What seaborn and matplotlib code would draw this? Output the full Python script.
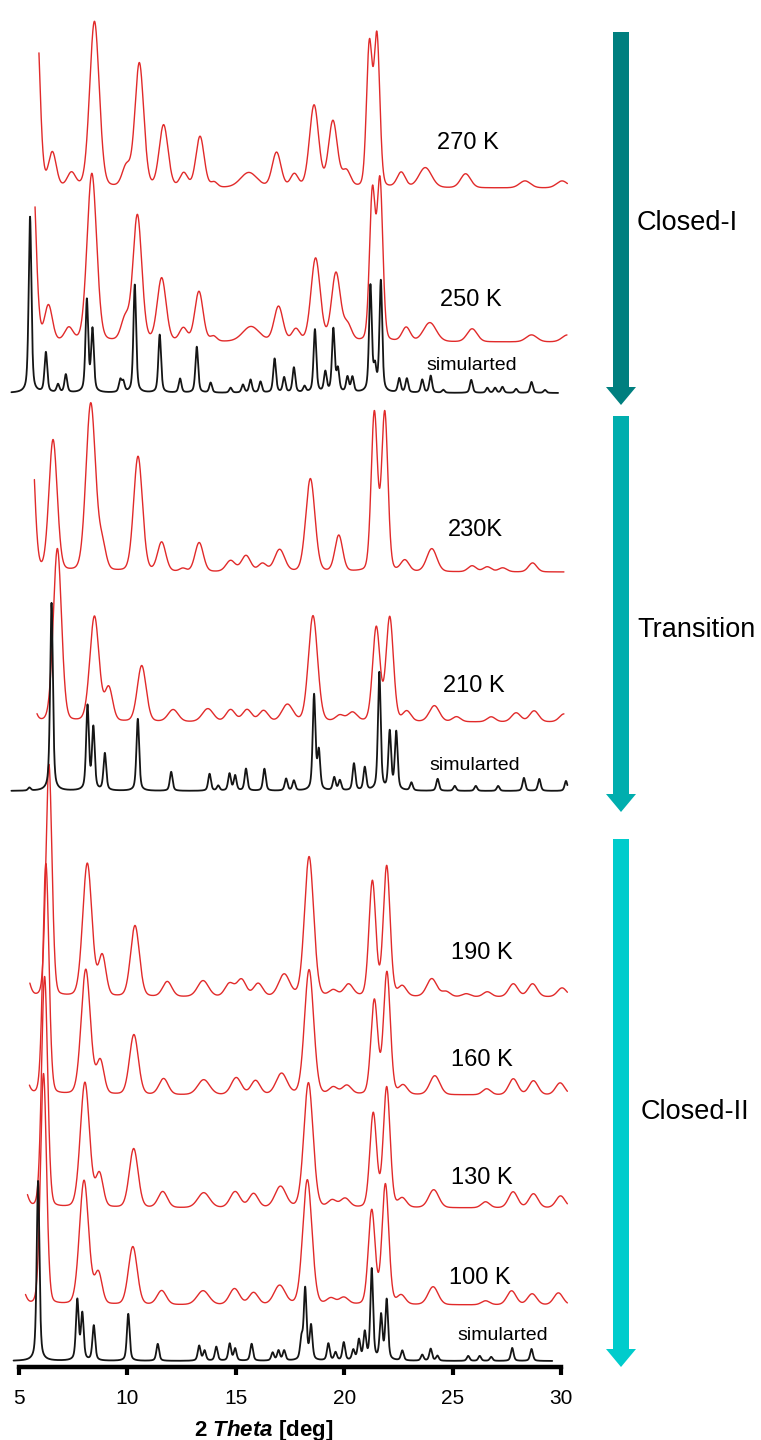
import numpy as np
import pandas as pd
import matplotlib
matplotlib.use("Agg")
import matplotlib.pyplot as plt
import matplotlib.transforms as mtransforms
from matplotlib.patches import FancyArrow
import seaborn as sns

# Peak tables: (2theta [deg], intensity [a.u.], fwhm [deg])
peaks_270K = [(5.78, 190, 0.4), (6.54, 34, 0.42), (7.42, 14, 0.45), (8.48, 166, 0.52),
              (9.95, 20, 0.45), (10.55, 124, 0.48), (11.67, 62, 0.48), (12.6, 14, 0.42),
              (13.35, 51, 0.45), (14.0, 5, 0.35), (15.6, 15, 0.9), (16.88, 35, 0.48),
              (17.7, 13, 0.42), (18.61, 82, 0.5), (19.48, 66, 0.48), (20.1, 16, 0.45),
              (21.16, 141, 0.31), (21.51, 149, 0.31), (22.63, 15, 0.45), (23.74, 20, 0.7),
              (25.6, 14, 0.55), (28.34, 7, 0.6), (30.05, 7, 0.6)]
peaks_250K = [(5.6, 190, 0.4), (6.36, 35, 0.42), (7.3, 13, 0.45), (8.36, 168, 0.52),
              (9.9, 22, 0.45), (10.46, 126, 0.48), (11.58, 63, 0.48), (12.58, 13, 0.42),
              (13.3, 50, 0.45), (13.97, 5, 0.35), (15.7, 15, 0.9), (16.97, 35, 0.48),
              (17.77, 12, 0.42), (18.68, 83, 0.5), (19.62, 68, 0.48), (20.15, 16, 0.45),
              (21.3, 148, 0.31), (21.65, 158, 0.31), (22.86, 14, 0.45), (23.95, 19, 0.7),
              (25.9, 13, 0.55), (28.64, 7, 0.6), (30.3, 7, 0.6)]
peaks_230K = [(5.53, 160, 0.4), (6.57, 131, 0.45), (8.31, 168, 0.52), (8.84, 24, 0.4),
              (10.49, 115, 0.48), (11.58, 29, 0.45), (12.56, 3, 0.35), (13.31, 29, 0.45),
              (14.76, 11, 0.5), (15.47, 16, 0.5), (16.23, 8, 0.45), (17.02, 22, 0.55),
              (18.44, 93, 0.5), (19.75, 36, 0.42), (21.39, 158, 0.34), (21.87, 158, 0.34),
              (22.8, 11, 0.45), (24.04, 23, 0.55), (25.9, 6, 0.45), (26.6, 5, 0.45),
              (27.31, 4, 0.45), (28.69, 9, 0.45)]
peaks_210K = [(5.55, 25, 0.4), (6.77, 173, 0.45), (8.48, 105, 0.5), (9.14, 33, 0.42),
              (10.66, 56, 0.48), (12.11, 12, 0.55), (13.71, 13, 0.6), (14.76, 12, 0.5),
              (15.52, 12, 0.5), (16.28, 11, 0.5), (17.38, 17, 0.6), (18.56, 106, 0.5),
              (19.8, 6, 0.45), (20.38, 9, 0.5), (21.48, 94, 0.4), (22.1, 104, 0.4),
              (22.89, 10, 0.45), (24.16, 16, 0.55), (25.18, 5, 0.45), (26.78, 5, 0.45),
              (27.93, 9, 0.5), (28.76, 11, 0.5), (30.14, 8, 0.5)]
peaks_190K = [(5.3, 25, 0.4), (6.38, 232, 0.33), (8.15, 133, 0.5), (8.84, 40, 0.4),
              (10.35, 71, 0.48), (11.84, 15, 0.5), (13.49, 16, 0.6), (14.71, 13, 0.5),
              (15.26, 17, 0.5), (16.03, 13, 0.5), (17.23, 22, 0.6), (18.38, 140, 0.5),
              (19.5, 6, 0.45), (20.2, 12, 0.5), (21.3, 115, 0.37), (21.96, 130, 0.37),
              (22.68, 10, 0.45), (24.04, 18, 0.55), (24.7, 5, 0.45), (25.63, 3, 0.45),
              (26.6, 5, 0.45), (27.8, 13, 0.5), (28.69, 13, 0.5), (30.05, 9, 0.5)]
peaks_160K = [(5.25, 20, 0.4), (6.24, 231, 0.33), (8.08, 125, 0.5), (8.75, 33, 0.4),
              (10.3, 60, 0.48), (11.67, 16, 0.5), (13.52, 15, 0.65), (15.02, 17, 0.55),
              (15.91, 14, 0.5), (17.11, 21, 0.6), (18.38, 125, 0.5), (19.5, 7, 0.45),
              (20.12, 9, 0.5), (21.39, 94, 0.37), (21.97, 122, 0.37), (22.72, 9, 0.45),
              (24.18, 19, 0.55), (26.57, 6, 0.45), (27.8, 16, 0.5), (28.73, 14, 0.5),
              (29.96, 12, 0.5)]
peaks_130K = [(5.2, 22, 0.4), (6.18, 231, 0.33), (8.04, 125, 0.5), (8.71, 33, 0.4),
              (10.29, 59, 0.48), (11.63, 16, 0.5), (13.52, 15, 0.65), (14.97, 16, 0.55),
              (15.82, 14, 0.5), (17.06, 21, 0.6), (18.35, 125, 0.5), (19.45, 7, 0.45),
              (20.04, 9, 0.5), (21.34, 94, 0.37), (21.96, 120, 0.37), (22.68, 9, 0.45),
              (24.13, 18, 0.55), (26.52, 6, 0.45), (27.79, 16, 0.5), (28.73, 14, 0.5),
              (29.98, 12, 0.5)]
peaks_100K = [(5.1, 18, 0.4), (6.13, 231, 0.33), (8.0, 124, 0.5), (8.66, 31, 0.4),
              (10.25, 58, 0.48), (11.58, 14, 0.5), (13.49, 14, 0.65), (14.94, 16, 0.55),
              (15.82, 12, 0.5), (17.02, 19, 0.6), (18.3, 125, 0.5), (19.39, 6, 0.45),
              (19.98, 7, 0.5), (21.27, 94, 0.37), (21.9, 120, 0.37), (22.63, 9, 0.45),
              (24.1, 18, 0.55), (26.52, 4, 0.45), (27.72, 14, 0.5), (28.67, 11, 0.5),
              (29.88, 12, 0.5)]

# simulated patterns: (2theta, intensity), narrow peaks
sim_closed1 = [(5.51, 176), (6.24, 40), (6.8, 8), (7.16, 18), (8.13, 92), (8.39, 62),
               (9.67, 12), (9.81, 10), (10.34, 108), (11.49, 58), (12.43, 14), (13.2, 46),
               (13.84, 10), (14.76, 5), (15.33, 8), (15.68, 13), (16.14, 11), (16.79, 34),
               (17.23, 15), (17.68, 25), (18.17, 6), (18.65, 63), (19.13, 20), (19.5, 63),
               (19.71, 22), (20.15, 15), (20.38, 15), (21.21, 106), (21.42, 22), (21.69, 111),
               (22.54, 14), (22.89, 14), (23.6, 13), (23.99, 17), (24.57, 3), (25.86, 13),
               (26.6, 5), (26.96, 5), (27.3, 6), (27.93, 4), (28.64, 11), (29.26, 3)]
sim_transition = [(5.48, 3), (6.5, 188), (8.16, 84), (8.43, 62), (8.96, 37), (10.48, 72),
                  (12.02, 19), (13.79, 17), (14.19, 5), (14.71, 17), (14.97, 15), (15.47, 22),
                  (16.32, 22), (17.32, 12), (17.68, 10), (18.61, 95), (18.83, 38), (19.54, 13),
                  (19.8, 10), (20.45, 27), (20.95, 23), (21.62, 118), (22.1, 58), (22.4, 58),
                  (23.1, 8), (24.31, 12), (25.1, 5), (26.07, 5), (27.1, 5), (28.29, 13),
                  (29.0, 12), (30.23, 10)]
sim_closed2 = [(5.88, 180), (7.69, 60), (7.92, 46), (8.45, 35), (10.04, 47), (11.4, 17),
               (13.31, 15), (13.56, 10), (14.1, 14), (14.72, 17), (14.97, 12), (15.73, 17),
               (16.7, 8), (16.97, 10), (17.23, 10), (18.03, 20), (18.2, 71), (18.47, 34),
               (19.27, 17), (19.6, 8), (19.98, 18), (20.42, 10), (20.68, 20), (20.95, 27),
               (21.27, 91), (21.7, 44), (21.96, 60), (22.68, 10), (23.6, 6), (23.99, 12),
               (24.3, 5), (25.72, 5), (26.25, 5), (26.78, 4), (27.75, 13), (28.64, 12)]

# measured 2theta range of each pattern
ranges = {"270K": (5.92, 30.3), "250K": (5.74, 30.28), "sim1": (4.65, 29.87),
          "230K": (5.71, 30.14), "210K": (5.83, 30.14), "sim2": (4.65, 30.3),
          "190K": (5.5, 30.3), "160K": (5.48, 30.3), "130K": (5.39, 30.3),
          "100K": (5.3, 30.3), "sim3": (4.75, 29.6)}

phase_names = ["Closed-I", "Transition", "Closed-II"]

# ---- layout (vertical stacking offsets, label placement) ----
offsets = {"270K": 1179, "250K": 1025, "sim1": 974, "230K": 795, "210K": 645,
           "sim2": 576, "190K": 370, "160K": 272, "130K": 159, "100K": 62, "sim3": 6}
labels = [("270 K", 25.71, 1224, 17), ("250 K", 25.85, 1067, 17), ("simularted", 25.9, 1001, 14),
          ("230K", 26.03, 837, 17), ("210 K", 25.99, 681, 17), ("simularted", 26.03, 602, 14),
          ("190 K", 26.36, 414, 17), ("160 K", 26.36, 307, 17), ("130 K", 26.36, 189, 17),
          ("100 K", 26.26, 89, 17), ("simularted", 27.32, 32, 14)]

exp_sets = {"270K": peaks_270K, "250K": peaks_250K, "230K": peaks_230K, "210K": peaks_210K,
            "190K": peaks_190K, "160K": peaks_160K, "130K": peaks_130K, "100K": peaks_100K}
sim_sets = {"sim1": sim_closed1, "sim2": sim_transition, "sim3": sim_closed2}


def profile(x, peaks, fwhm=0.13, eta=0.3):
    """Sum of pseudo-Voigt peaks."""
    y = np.zeros_like(x)
    for p in peaks:
        c, h = p[0], p[1]
        w = p[2] if len(p) > 2 else fwhm
        u = (x - c) ** 2 / w ** 2
        y += h * (eta / (1 + 4 * u) + (1 - eta) * np.exp(-4 * np.log(2) * u))
    return y


def build(sets, fwhm, eta):
    frames = []
    for name, peaks in sets.items():
        lo, hi = ranges[name]
        x = np.arange(lo, hi, 0.005)
        y = profile(x, peaks, fwhm, eta) + offsets[name]
        frames.append(pd.DataFrame({"two_theta": x, "intensity": y, "pattern": name}))
    return pd.concat(frames, ignore_index=True)


df_exp = build(exp_sets, 0.45, 0.15)
df_sim = build(sim_sets, 0.15, 0.5)

sns.set_theme(style="white")
plt.rcParams["font.family"] = ["Liberation Sans", "DejaVu Sans"]
plt.rcParams["mathtext.fontset"] = "custom"
plt.rcParams["mathtext.it"] = "Liberation Sans:italic:bold"
plt.rcParams["mathtext.rm"] = "Liberation Sans:bold"
plt.rcParams["text.color"] = "black"
plt.rcParams["axes.labelcolor"] = "black"
plt.rcParams["xtick.color"] = "black"

W, H = 761, 1440
fig = plt.figure(figsize=(W / 100, H / 100), dpi=100)
ax = fig.add_axes([0, 73 / H, 1, 1367 / H])

sns.lineplot(data=df_exp, x="two_theta", y="intensity", units="pattern", estimator=None,
             sort=False, color="#e12a2a", lw=1.0, ax=ax)
sns.lineplot(data=df_sim, x="two_theta", y="intensity", units="pattern", estimator=None,
             sort=False, color="#151515", lw=1.3, ax=ax)

for txt, x, y, fs in labels:
    ax.text(x, y, txt, fontsize=fs, ha="center", va="center", color="black")

ax.set_xlim(5 - 19 / 21.68, 5 + (W - 19) / 21.68)
ax.set_ylim(0, 1367)
ax.set_yticks([])
ax.set_ylabel("")
for s in ["left", "right", "top"]:
    ax.spines[s].set_visible(False)
ax.spines["bottom"].set_bounds(5, 30)
ax.spines["bottom"].set_linewidth(3.2)
ax.spines["bottom"].set_color("black")
ax.set_xticks(range(5, 31, 5))
ax.tick_params(axis="x", direction="out", length=6, width=3, color="black",
               labelcolor="black", labelsize=15, pad=10, bottom=True)
ax.set_xlabel(r"2 $\mathit{Theta}$ [deg]", fontsize=16, fontweight="bold", color="black")
ax.xaxis.set_label_coords(0.346, -0.037)
ax.patch.set_alpha(0)

# phase arrows (pixel coordinates, origin bottom-left)
pix = mtransforms.Affine2D().scale(1 / W, 1 / H) + fig.transFigure
arrows = [(1408, 1035, "#007f7f"), (1024, 628, "#00aeae"), (601, 73, "#00cccc")]
for (y0, y1, col), name in zip(arrows, phase_names):
    fig.add_artist(FancyArrow(621, y0, 0, y1 - y0, width=16, head_width=30, head_length=18,
                              length_includes_head=True, color=col, lw=0, transform=pix))
phase_text = [(687, H - 223), (697, H - 630), (695, H - 1112)]
for (x, y), name in zip(phase_text, phase_names):
    fig.text(x, y, name, fontsize=19.5, ha="center", va="center", color="black",
             transform=pix)

fig.savefig("out.png", dpi=100)
